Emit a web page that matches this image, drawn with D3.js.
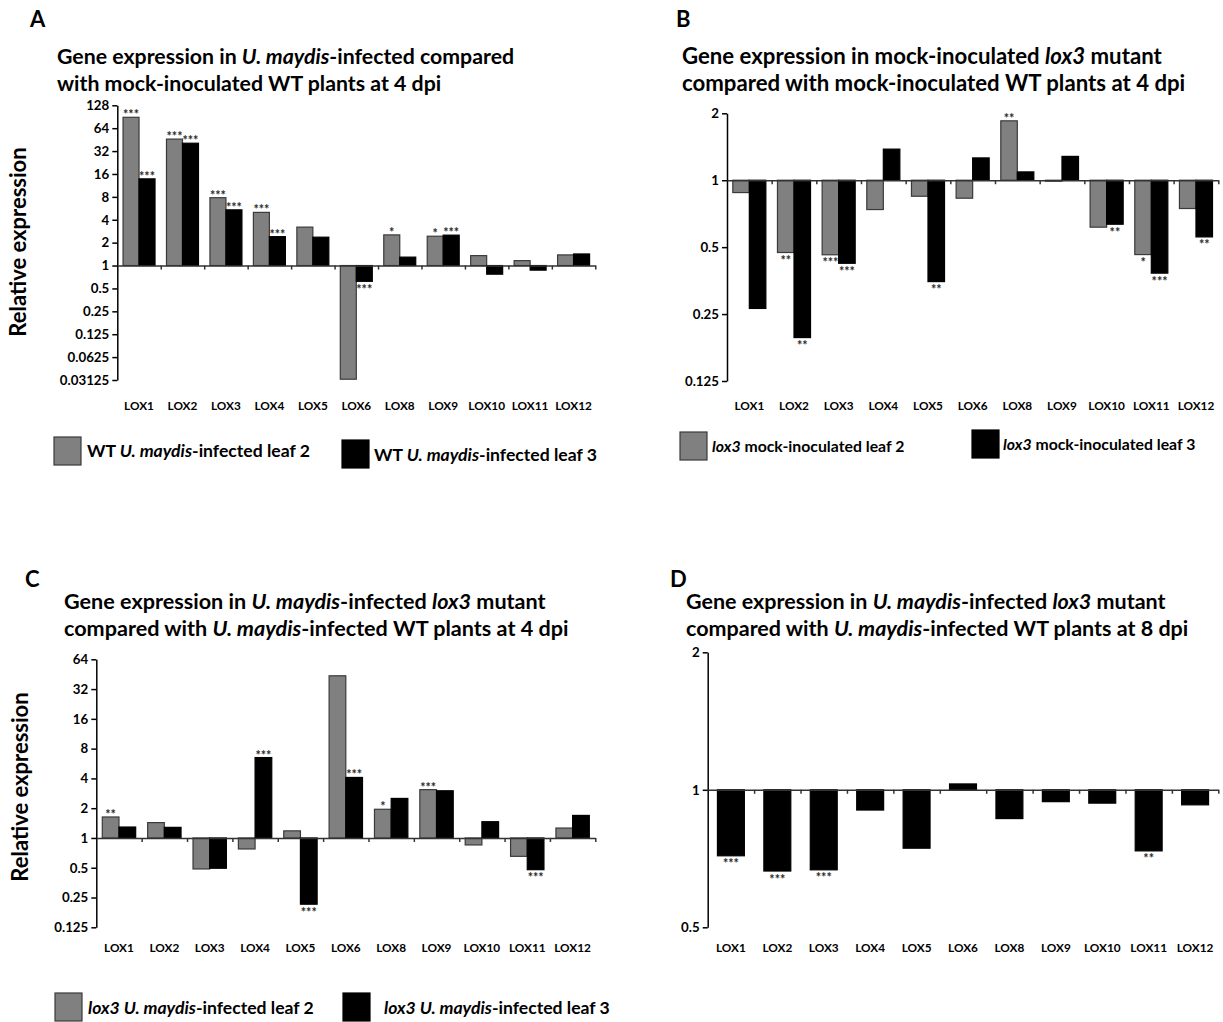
<!DOCTYPE html>
<html><head><meta charset="utf-8">
<script src="https://cdn.jsdelivr.net/npm/d3@7"></script>
<style>
body{margin:0;background:#fff}
svg{display:block}
text{font-family:Lato,"Open Sans",sans-serif;font-weight:700;fill:#000}
</style>
</head><body><svg id="c" width="1223" height="1022"></svg>
<script>
const genes = ["LOX1","LOX2","LOX3","LOX4","LOX5","LOX6","LOX8","LOX9","LOX10","LOX11","LOX12"];

// Panel A
const aLeaf2 = [89, 46, 7.8, 5.0, 3.2, 0.032, 2.53, 2.43, 1.35, 1.16, 1.38];
const aLeaf3 = [13.8, 40.6, 5.4, 2.4, 2.36, 0.62, 1.29, 2.51, 0.77, 0.87, 1.42];
const aSig2 = ["***","***","***","***","","","*","*","","",""];
const aSig3 = ["***","***","***","***","","***","","***","","",""];
const aTicks = [128,64,32,16,8,4,2,1,0.5,0.25,0.125,0.0625,0.03125];

// Panel B
const bLeaf2 = [0.88,0.473,0.462,0.738,0.847,0.83,1.85,0.99,0.615,0.463,0.746];
const bLeaf3 = [0.265,0.196,0.423,1.38,0.35,1.26,1.09,1.28,0.634,0.382,0.556];
const bSig2 = ["","**","***","","","","**","","","*",""];
const bSig3 = ["","**","***","","**","","","","**","***","**"];
const bTicks = [2,1,0.5,0.25,0.125];

// Panel C
const cLeaf2 = [1.63,1.43,0.486,0.774,1.18,43.6,1.95,3.08,0.85,0.652,1.26];
const cLeaf3 = [1.29,1.28,0.494,6.5,0.214,4.09,2.51,3.0,1.46,0.478,1.69];
const cSig2 = ["**","","","","","","*","***","","",""];
const cSig3 = ["","","","***","***","***","","","","***",""];
const cTicks = [64,32,16,8,4,2,1,0.5,0.25,0.125];

// Panel D
const dLeaf3 = [0.717,0.664,0.668,0.903,0.745,1.03,0.865,0.942,0.935,0.735,0.927];
const dSig3 = ["***","***","***","","","","","","","**",""];
const dTicks = [2,1,0.5];

const GRAY = "#808080", GRAY_STROKE = "#3a3a3a";
const svg = d3.select("#c");

function richText(sel, parts){
  parts.forEach(p => {
    sel.append("tspan").text(p[0]).attr("font-style", p[1] ? "italic" : "normal");
  });
}

function panel(cfg){
  const g = svg.append("g");
  const x = d3.scaleBand().domain(genes).range([cfg.x0, cfg.x1])
    .paddingInner(cfg.pad).paddingOuter(cfg.pad/2);
  const y = d3.scaleLog().base(2)
    .domain([cfg.ticks[cfg.ticks.length-1], cfg.ticks[0]])
    .range([cfg.yBot, cfg.yTop]);
  const sub = d3.scaleBand().domain(d3.range(cfg.series.length)).range([0, x.bandwidth()]);
  const y1 = y(1);

  cfg.series.forEach((s, si) => {
    g.append("g").selectAll("rect").data(s.values).enter().append("rect")
      .attr("x", (d,i) => x(genes[i]) + sub(si))
      .attr("width", sub.bandwidth())
      .attr("y", d => Math.min(y(d), y1))
      .attr("height", d => Math.max(Math.abs(y(d) - y1), 0.5))
      .attr("fill", s.fill).attr("stroke", s.stroke).attr("stroke-width", 1.2);
    g.append("g").selectAll("text").data(s.values).enter().append("text")
      .attr("x", (d,i) => x(genes[i]) + sub(si) + sub.bandwidth()/2)
      .attr("y", d => d >= 1 ? y(d) + 2 : y(d) + 12.5)
      .attr("text-anchor", "middle")
      .attr("font-size", 12.5).style("fill", "#2a2a2a")
      .text((d,i) => s.sig[i]);
  });

  // y axis
  const ya = d3.axisLeft(y).tickValues(cfg.ticks).tickFormat(d => String(d))
    .tickSize(5).tickSizeOuter(0).tickPadding(3);
  const yg = g.append("g").attr("transform", `translate(${cfg.x0},0)`).call(ya);
  yg.select(".domain").attr("stroke", "#000").attr("stroke-width", 1.5);
  yg.selectAll(".tick line").attr("stroke", "#000").attr("stroke-width", 1.5);
  yg.selectAll(".tick text").attr("font-size", 13.3).attr("font-family", "Lato, sans-serif").attr("font-weight", 700);

  // x axis at value 1, ticks at category boundaries
  const xb = d3.scaleLinear().domain([0, genes.length]).range([cfg.x0, cfg.x1]);
  const xa = d3.axisBottom(xb).tickValues(d3.range(1, genes.length + 1)).tickFormat("")
    .tickSize(4).tickSizeOuter(0);
  const xg = g.append("g").attr("transform", `translate(0,${y1})`).call(xa);
  xg.select(".domain").attr("stroke", "#333").attr("stroke-width", 1.5);
  xg.selectAll(".tick line").attr("stroke", "#333").attr("stroke-width", 1.5);

  // category labels
  const xl = d3.axisBottom(x).tickSize(0).tickPadding(0);
  const lg = g.append("g").attr("transform", `translate(0,${cfg.labelY})`).call(xl);
  lg.select(".domain").remove();
  lg.selectAll(".tick text").attr("font-size", 11.8).attr("font-family", "Lato, sans-serif").attr("font-weight", 700);

  // panel letter
  svg.append("text").attr("x", cfg.letter[1]).attr("y", cfg.letter[2])
    .attr("font-size", 22).text(cfg.letter[0]);
  // title
  cfg.title.forEach((line, li) => {
    const t = svg.append("text").attr("x", cfg.titleX).attr("y", cfg.titleY + li * 27)
      .attr("font-size", cfg.titleSize || 21.3);
    richText(t, line);
  });
  // y title
  if (cfg.yTitle) {
    svg.append("text")
      .attr("transform", `translate(${cfg.yTitle[0]},${cfg.yTitle[1]}) rotate(-90)`)
      .attr("text-anchor", "middle").attr("font-size", 22).text("Relative expression");
  }
  // legend
  (cfg.legend || []).forEach(l => {
    svg.append("rect").attr("x", l.rx).attr("y", l.ry).attr("width", 27).attr("height", 28)
      .attr("fill", l.fill).attr("stroke", l.stroke).attr("stroke-width", 1.2);
    const t = svg.append("text").attr("x", l.tx).attr("y", l.ty).attr("font-size", cfg.legendSize || 17.6);
    richText(t, l.parts);
  });
}

panel({
  x0: 117.3, x1: 595.3, yTop: 105.3, yBot: 380, pad: 0.264, ticks: aTicks, labelY: 402,
  series: [
    {values: aLeaf2, sig: aSig2, fill: GRAY, stroke: GRAY_STROKE},
    {values: aLeaf3, sig: aSig3, fill: "#000", stroke: "#000"}
  ],
  letter: ["A", 30, 27], titleX: 57, titleY: 64,
  title: [[["Gene expression in ",0],["U. maydis",1],["-infected compared",0]],
          [["with mock-inoculated WT plants at 4 dpi",0]]],
  yTitle: [26, 242],
  legend: [
    {rx: 54, ry: 437, fill: GRAY, stroke: GRAY_STROKE, tx: 87, ty: 457,
     parts: [["WT ",0],["U. maydis",1],["-infected leaf 2",0]]},
    {rx: 342, ry: 440, fill: "#000", stroke: "#000", tx: 374, ty: 461,
     parts: [["WT ",0],["U. maydis",1],["-infected leaf 3",0]]}
  ]
});

panel({
  x0: 727, x1: 1218.3, yTop: 113.3, yBot: 381, pad: 0.26, ticks: bTicks, labelY: 402,
  series: [
    {values: bLeaf2, sig: bSig2, fill: GRAY, stroke: GRAY_STROKE},
    {values: bLeaf3, sig: bSig3, fill: "#000", stroke: "#000"}
  ],
  letter: ["B", 676, 27], titleX: 682, titleY: 64, titleSize: 22.2, legendSize: 15.8,
  title: [[["Gene expression in mock-inoculated ",0],["lox3",1],[" mutant",0]],
          [["compared with mock-inoculated WT plants at 4 dpi",0]]],
  legend: [
    {rx: 680, ry: 432, fill: GRAY, stroke: GRAY_STROKE, tx: 712, ty: 452,
     parts: [["lox3",1],[" mock-inoculated leaf 2",0]]},
    {rx: 972, ry: 430, fill: "#000", stroke: "#000", tx: 1003, ty: 450,
     parts: [["lox3",1],[" mock-inoculated leaf 3",0]]}
  ]
});

panel({
  x0: 96.3, x1: 595.3, yTop: 659.3, yBot: 927.3, pad: 0.264, ticks: cTicks, labelY: 944,
  series: [
    {values: cLeaf2, sig: cSig2, fill: GRAY, stroke: GRAY_STROKE},
    {values: cLeaf3, sig: cSig3, fill: "#000", stroke: "#000"}
  ],
  letter: ["C", 25, 587], titleX: 64, titleY: 609, titleSize: 21.6,
  title: [[["Gene expression in ",0],["U. maydis",1],["-infected ",0],["lox3",1],[" mutant",0]],
          [["compared with ",0],["U. maydis",1],["-infected WT plants at 4 dpi",0]]],
  yTitle: [28, 787],
  legend: [
    {rx: 55, ry: 993, fill: GRAY, stroke: GRAY_STROKE, tx: 88, ty: 1014,
     parts: [["lox3 U. maydis",1],["-infected leaf 2",0]]},
    {rx: 343, ry: 993, fill: "#000", stroke: "#000", tx: 384, ty: 1014,
     parts: [["lox3 U. maydis",1],["-infected leaf 3",0]]}
  ]
});

panel({
  x0: 707.7, x1: 1218.3, yTop: 652.3, yBot: 927.3, pad: 0.42, ticks: dTicks, labelY: 944,
  series: [
    {values: dLeaf3, sig: dSig3, fill: "#000", stroke: "#000"}
  ],
  letter: ["D", 670, 587], titleX: 686, titleY: 609, titleSize: 21.5,
  title: [[["Gene expression in ",0],["U. maydis",1],["-infected ",0],["lox3",1],[" mutant",0]],
          [["compared with ",0],["U. maydis",1],["-infected WT plants at 8 dpi",0]]]
});
</script></body></html>
